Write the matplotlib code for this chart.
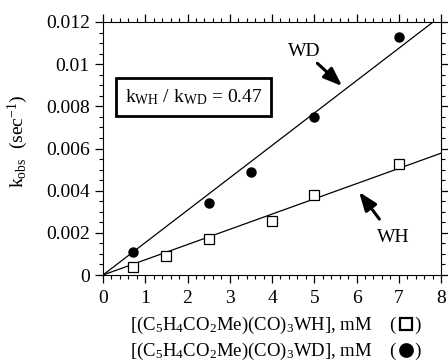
import numpy as np
import matplotlib
matplotlib.use("Agg")
import matplotlib.pyplot as plt
from matplotlib.ticker import MultipleLocator

# ── data ───────────────────────────────────────────────────────────────────
wd_conc = [0.7, 2.5, 3.5, 5.0, 7.0]
wd_kobs = [0.0011, 0.0034, 0.0049, 0.0075, 0.0113]
wh_conc = [0.7, 1.5, 2.5, 4.0, 5.0, 7.0]
wh_kobs = [0.0004, 0.0009, 0.0017, 0.00256, 0.0038, 0.00526]
wd_slope = 0.001536
wh_slope = 0.000722

FS = 14
plt.rcParams["font.family"] = ["Liberation Serif", "DejaVu Serif"]
plt.rcParams["mathtext.fontset"] = "custom"
plt.rcParams["mathtext.rm"] = "Liberation Serif"
plt.rcParams["mathtext.it"] = "Liberation Serif"

fig = plt.figure(figsize=(4.48, 3.62), dpi=100)
ax = fig.add_axes([103/448, 1-275/362, 338/448, 253/362])

xl = np.array([0, 8])
ax.plot(xl, wd_slope*xl, color="black", lw=0.9)
ax.plot(xl, wh_slope*xl, color="black", lw=0.9)
ax.plot(wd_conc, wd_kobs, "o", color="black", ms=6.5)
ax.plot(wh_conc, wh_kobs, "s", mfc="white", mec="black", ms=7, mew=0.9)

ax.set_xlim(0, 8)
ax.set_ylim(0, 0.012)
ax.xaxis.set_major_locator(MultipleLocator(1))
ax.xaxis.set_minor_locator(MultipleLocator(0.2))
ax.set_yticks([0, 0.002, 0.004, 0.006, 0.008, 0.01, 0.012])
ax.set_yticklabels(["0", "0.002", "0.004", "0.006", "0.008", "0.01", "0.012"])
ax.yaxis.set_minor_locator(MultipleLocator(0.0005))
ax.tick_params(which="both", direction="out", top=True, right=True, labelsize=FS)
ax.tick_params(which="major", length=6, width=0.9)
ax.tick_params(which="minor", length=3, width=0.8)
ax.tick_params(axis="x", pad=4.5)

ax.set_ylabel(r"k$_{\rm obs}$  (sec$^{-1}$)", fontsize=FS)
ax.yaxis.set_label_coords(-0.215, 0.53)

fig.text(0.56, 1-325/362, r"[(C$_5$H$_4$CO$_2$Me)(CO)$_3$WH], mM", ha="center", va="center", fontsize=13.5)
fig.text(0.56, 1-351/362, r"[(C$_5$H$_4$CO$_2$Me)(CO)$_3$WD], mM", ha="center", va="center", fontsize=13.5)
for yy, mk in [(325, "s"), (351, "o")]:
    fig.text(0.906, 1-yy/362, "(    )", ha="center", va="center", fontsize=13.5)
    fig.lines.append(plt.Line2D([0.906], [1-(yy-1)/362], marker=mk,
                                mfc="white" if mk == "s" else "black", mec="black",
                                ms=8 if mk == "s" else 9, mew=1.6,
                                transform=fig.transFigure))

ax.text(2.15, 0.00844, r"k$_{\rm WH}$ / k$_{\rm WD}$ = 0.47", ha="center", va="center",
        fontsize=FS, bbox=dict(boxstyle="square,pad=0.45", fc="white", ec="black", lw=2))

ax.annotate("WD", xy=(5.66, 0.00896), xytext=(4.76, 0.01062), ha="center", va="center",
            fontsize=FS, arrowprops=dict(arrowstyle="-|>,head_length=0.8,head_width=0.3",
                                         color="black", lw=2.2, shrinkA=1, shrinkB=0))
ax.annotate("WH", xy=(6.06, 0.00394), xytext=(6.86, 0.0018), ha="center", va="center",
            fontsize=FS, arrowprops=dict(arrowstyle="-|>,head_length=0.8,head_width=0.3",
                                         color="black", lw=2.2, shrinkA=6, shrinkB=0))

fig.savefig("out.png", dpi=100)
